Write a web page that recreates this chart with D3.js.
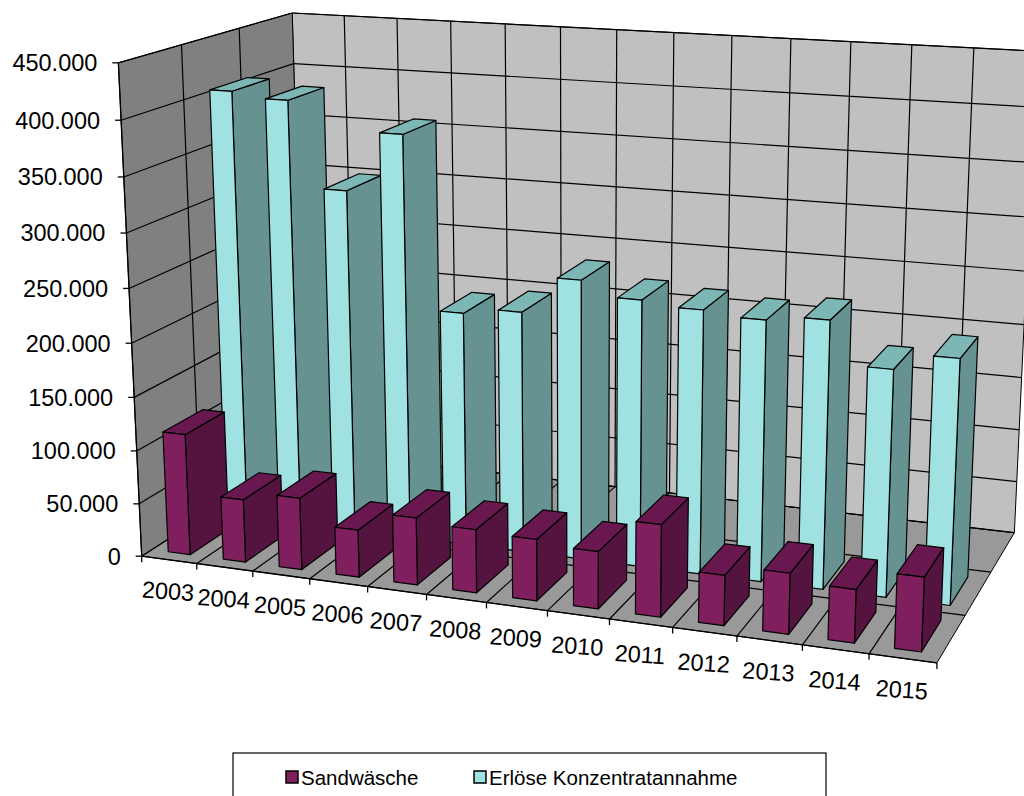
<!DOCTYPE html>
<html>
<head>
<meta charset="utf-8">
<script src="https://cdn.jsdelivr.net/npm/d3@7"></script>
<style>
  html, body { margin: 0; padding: 0; background: #ffffff; }
  svg { display: block; }
  text { font-family: "Liberation Sans", Arial, Helvetica, sans-serif; fill: #000; }
</style>
</head>
<body>
<svg id="chart" width="1024" height="796"></svg>
<script>
// ---- data -------------------------------------------------------------
const years = ["2003","2004","2005","2006","2007","2008","2009","2010","2011","2012","2013","2014","2015"];
const seriesNames = ["Sandwäsche", "Erlöse Konzentratannahme"];
const sandwaesche = [114000, 59000, 67000, 44000, 62000, 58000, 56000, 52000, 83000, 45000, 54000, 47000, 65000];
const erloese = [407000, 402000, 323000, 378000, 219000, 225000, 259000, 246000, 242000, 238000, 243000, 205000, 220000];
const valueTicks = [0, 50000, 100000, 150000, 200000, 250000, 300000, 350000, 400000, 450000];

// ---- perspective camera -------------------------------------------------
// Plot box coordinates: x = category units (0..13), d = depth (0 front .. 1 back),
// h = height (0 floor .. 1 top). Each anchor: [x, d, h, screenX, screenY].
const boxAnchors = [
  [0,0,0,141.7,556.7],[1,0,0,196.7,563.3],[2,0,0,253.3,570.7],[3,0,0,310,579],
  [4,0,0,368.3,587.3],[5,0,0,426.7,595],[6,0,0,486.7,603.3],[7,0,0,547.5,610],
  [8,0,0,610,618.3],[9,0,0,673.3,628.3],[10,0,0,736.7,636.7],[11,0,0,801.7,645],
  [12,0,0,868.3,654],[13,0,0,936.7,663.3],
  [0,0,1/9,139.2,503.3],[0,0,2/9,136.7,450.7],[0,0,3/9,134.2,397.3],[0,0,4/9,131.6,343.3],
  [0,0,5/9,129.0,287.3],[0,0,6/9,126.4,232.7],[0,0,7/9,123.8,176.7],[0,0,8/9,121.1,120],
  [0,0,1,118.3,62.3],
  [0,1/3,1,181.7,44],[0,2/3,1,240,28.3],[0,1,1,291.7,12.5],[0,1,8/9,292.7,64],
  [1,1,1,344,15.7],[2,1,1,396.7,18.7],[3,1,1,450.7,21.5],[4,1,1,505,24.7],
  [5,1,1,560,28],[6,1,1,616.7,30],[7,1,1,674,33.3],[8,1,1,732.3,36],
  [9,1,1,791,39.3],[10,1,1,850.7,42],[11,1,1,911.7,45],[12,1,1,973.3,48],
  [12,1,8/9,972.3,103.3],[12,1,7/9,970,156.7],[12,1,6/9,967.7,211.7],
  [12,1,5/9,965.7,265],[12,1,4/9,963.3,318.3],
  [13,1,0,1014.5,532.5],[13,1/3,0,963,617],[13,2/3,0,991,571]
];

const NX = years.length;
const U0 = 512, V0 = 400, S = 500;

// Least-squares direct linear transform for a 3x4 projection matrix.
function solveCamera(anchors) {
  const n = 11;
  const M = Array.from({length: n}, () => new Array(n + 1).fill(0));
  const addRow = (r, b) => {
    for (let a = 0; a < n; a++) {
      for (let c = 0; c < n; c++) M[a][c] += r[a] * r[c];
      M[a][n] += r[a] * b;
    }
  };
  anchors.forEach(([x, d, h, sx, sy]) => {
    const X = x / NX, Y = d, Z = h;
    const u = (sx - U0) / S, v = (sy - V0) / S;
    addRow([X, Y, Z, 1, 0, 0, 0, 0, -u * X, -u * Y, -u * Z], u);
    addRow([0, 0, 0, 0, X, Y, Z, 1, -v * X, -v * Y, -v * Z], v);
  });
  for (let c = 0; c < n; c++) {
    let p = c;
    for (let r = c + 1; r < n; r++) if (Math.abs(M[r][c]) > Math.abs(M[p][c])) p = r;
    [M[c], M[p]] = [M[p], M[c]];
    for (let r = 0; r < n; r++) {
      if (r === c) continue;
      const f = M[r][c] / M[c][c];
      for (let k = c; k <= n; k++) M[r][k] -= f * M[c][k];
    }
  }
  return M.map((row, i) => row[n] / row[i]);
}

const P = solveCamera(boxAnchors);
function proj(x, d, h) {
  const X = x / NX, Y = d, Z = h;
  const w = P[8] * X + P[9] * Y + P[10] * Z + 1;
  const u = (P[0] * X + P[1] * Y + P[2] * Z + P[3]) / w;
  const v = (P[4] * X + P[5] * Y + P[6] * Z + P[7]) / w;
  return [u * S + U0, v * S + V0];
}

// ---- scales --------------------------------------------------------------
const catGrid = d3.scaleBand().domain(years).range([0, NX]);
const xBar = d3.scaleBand().domain(years).range([0, NX]).paddingInner(0.6).paddingOuter(0.3);
const depthSlots = d3.scaleBand().domain([...seriesNames, "_"]).range([0, 1]).paddingInner(1/3).paddingOuter(1/6);
const depthGrid = d3.scaleBand().domain([...seriesNames, "_"]).range([0, 1]);
const hScale = d3.scaleLinear().domain([0, 450000]).range([0, 1]);

const de = d3.formatLocale({decimal: ",", thousands: ".", grouping: [3], currency: ["", " €"]});
const fmt = de.format(",d");

// ---- drawing ---------------------------------------------------------------
const svg = d3.select("#chart");
svg.append("rect").attr("width", 1024).attr("height", 796).attr("fill", "#ffffff");

const line = d3.line();
const poly = pts => line(pts.map(p => proj(...p))) + "Z";

const walls = svg.append("g");
walls.append("path").attr("d", poly([[0,0,0],[NX,0,0],[NX,1,0],[0,1,0]]))
  .attr("fill", "#999999").attr("stroke", "#000").attr("stroke-width", 1);
walls.append("path").attr("d", poly([[0,1,0],[NX,1,0],[NX,1,1],[0,1,1]]))
  .attr("fill", "#c0c0c0").attr("stroke", "#000").attr("stroke-width", 1);
walls.append("path").attr("d", poly([[0,0,0],[0,1,0],[0,1,1],[0,0,1]]))
  .attr("fill", "#808080").attr("stroke", "#000").attr("stroke-width", 1);

const grid = svg.append("g").attr("stroke", "#000").attr("stroke-width", 1.2).attr("fill", "none");
const seg = (a, b) => grid.append("path").attr("d", line([proj(...a), proj(...b)]));

// horizontal value gridlines on the left and back walls
valueTicks.forEach(t => {
  const h = hScale(t);
  seg([0, 0, h], [0, 1, h]);
  seg([0, 1, h], [NX, 1, h]);
});
// category gridlines on back wall and floor
years.forEach(y => {
  const x = catGrid(y);
  if (x > 0) {
    seg([x, 1, 0], [x, 1, 1]);
    seg([x, 0, 0], [x, 1, 0]);
  }
});
// depth gridlines on left wall and floor
depthGrid.domain().forEach(s => {
  const d = depthGrid(s);
  if (d > 0) {
    seg([0, d, 0], [0, d, 1]);
    seg([0, d, 0], [NX, d, 0]);
  }
});

// axis lines
const axes = svg.append("g").attr("stroke", "#000").attr("stroke-width", 1.3).attr("fill", "none");
axes.append("path").attr("d", line([proj(0, 0, 0), proj(0, 0, 1)]));
axes.append("path").attr("d", line([proj(0, 0, 0), proj(NX, 0, 0)]));

// bars: back row first, left to right
const palette = [
  {front: "#7f1f5e", side: "#55133f", top: "#68184e"},
  {front: "#a0e2e1", side: "#669392", top: "#7cb7b5"}
];
const seriesValues = [sandwaesche, erloese];
const barsG = svg.append("g");
[1, 0].forEach(si => {
  const name = seriesNames[si];
  const d0 = depthSlots(name), d1 = d0 + depthSlots.bandwidth();
  const col = palette[si];
  seriesValues[si].forEach((val, i) => {
    const x0 = xBar(years[i]), x1 = x0 + xBar.bandwidth();
    const h = hScale(val);
    const g = barsG.append("g").attr("stroke", "#000").attr("stroke-width", 1.2).attr("stroke-linejoin", "round");
    g.append("path").attr("d", poly([[x1,d0,0],[x1,d1,0],[x1,d1,h],[x1,d0,h]])).attr("fill", col.side);
    g.append("path").attr("d", poly([[x0,d0,h],[x1,d0,h],[x1,d1,h],[x0,d1,h]])).attr("fill", col.top);
    g.append("path").attr("d", poly([[x0,d0,0],[x1,d0,0],[x1,d0,h],[x0,d0,h]])).attr("fill", col.front);
  });
});

// value axis ticks and labels
const vAxis = svg.append("g");
valueTicks.forEach(t => {
  const [px, py] = proj(0, 0, hScale(t));
  vAxis.append("line").attr("x1", px - 6).attr("x2", px).attr("y1", py).attr("y2", py)
    .attr("stroke", "#000").attr("stroke-width", 1.3);
  vAxis.append("text").attr("x", px - 21).attr("y", py).attr("dy", "0.36em")
    .attr("text-anchor", "end").attr("font-size", 23.5).text(fmt(t));
});

// category axis ticks and labels
const cAxis = svg.append("g");
d3.range(NX + 1).forEach(k => {
  const [px, py] = proj(k, 0, 0);
  cAxis.append("line").attr("x1", px).attr("x2", px).attr("y1", py).attr("y2", py + 6)
    .attr("stroke", "#000").attr("stroke-width", 1.3);
});
years.forEach(y => {
  const xm = catGrid(y) + catGrid.bandwidth() / 2;
  const [px, py] = proj(xm, 0, 0);
  const [ax, ay] = proj(catGrid(y), 0, 0), [bx, by] = proj(catGrid(y) + 1, 0, 0);
  const ang = Math.atan2(by - ay, bx - ax) * 180 / Math.PI * 0.5;
  cAxis.append("text")
    .attr("transform", `translate(${px - 1},${py + 31}) rotate(${ang})`)
    .attr("text-anchor", "middle").attr("dy", "0.36em").attr("font-size", 23.5).text(y);
});

// legend
const legend = svg.append("g");
legend.append("rect").attr("x", 233).attr("y", 753).attr("width", 593).attr("height", 60)
  .attr("fill", "#fff").attr("stroke", "#000").attr("stroke-width", 1.2);
const legendX = [286, 474];
seriesNames.forEach((name, i) => {
  legend.append("rect").attr("x", legendX[i]).attr("y", 771).attr("width", 12).attr("height", 12)
    .attr("fill", palette[i].front).attr("stroke", "#000").attr("stroke-width", 1.5);
  legend.append("text").attr("x", legendX[i] + 15).attr("y", 784.5).attr("font-size", 20.5).text(name);
});
</script>
</body>
</html>
